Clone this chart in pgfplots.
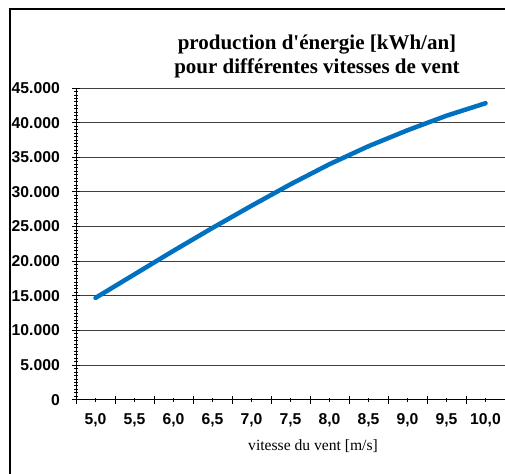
\documentclass[border=0pt]{standalone}
\usepackage{pgfplots}
\pgfplotsset{compat=1.18}
\usepackage{fontspec}
\setmainfont{Liberation Serif}
\newfontfamily\arial{Liberation Sans}
\definecolor{lineblue}{RGB}{0,112,192}
\begin{document}
\begin{tikzpicture}[x=1pt,y=1pt]
\useasboundingbox (0,0) rectangle (505,473);
\begin{axis}[
  at={(76pt,73.3pt)}, anchor=south west,
  scale only axis, width=429pt, height=311.7pt,
  xmin=-0.5, xmax=10.5, ymin=0, ymax=45000,
  axis x line*=bottom, axis y line*=left,
  axis line style={line width=1pt, black},
  xtick={-0.5,0.5,1.5,2.5,3.5,4.5,5.5,6.5,7.5,8.5,9.5,10.5},
  xticklabels={,,,,,,,,,,,,},
  extra x ticks={0,1,2,3,4,5,6,7,8,9,10},
  extra x tick labels={{5,0},{5,5},{6,0},{6,5},{7,0},{7,5},{8,0},{8,5},{9,0},{9,5},{10,0}},
  extra x tick style={major tick length=4pt},
  ytick={0,5000,10000,15000,20000,25000,30000,35000,40000,45000},
  yticklabels={0,5.000,10.000,15.000,20.000,25.000,30.000,35.000,40.000,45.000},
  scaled y ticks=false,
  minor y tick num=9,
  tick align=center,
  major tick length=8pt, minor tick length=4pt,
  tick style={black, line width=0.8pt},
  ymajorgrids, major grid style={black!75, line width=0.8pt},
  tick label style={font=\fontsize{15.7}{18}\selectfont\arial\bfseries},
  xticklabel style={yshift=-8pt},
  yticklabel style={xshift=-8.7pt},
  clip=false,
]
\addplot[lineblue, line width=4.5pt, line cap=round, line join=round] coordinates {
(0,14700) (1,18100) (2,21500) (3,24800) (4,28000) (5,31100) (6,34000) (7,36600) (8,38900) (9,41000) (10,42800)
};
\end{axis}
\draw[line width=2.5pt] (10,-5) -- (10,464) -- (520,464);
\node[anchor=base, font=\fontsize{21}{24}\selectfont\bfseries] at (317,423) {production d{\textquotesingle}énergie [kWh/an]};
\node[anchor=base, font=\fontsize{21}{24}\selectfont\bfseries] at (317,399) {pour différentes vitesses de vent};
\node[anchor=base, font=\fontsize{15.6}{18}\selectfont] at (313,22) {vitesse du vent [m/s]};
\end{tikzpicture}
\end{document}
